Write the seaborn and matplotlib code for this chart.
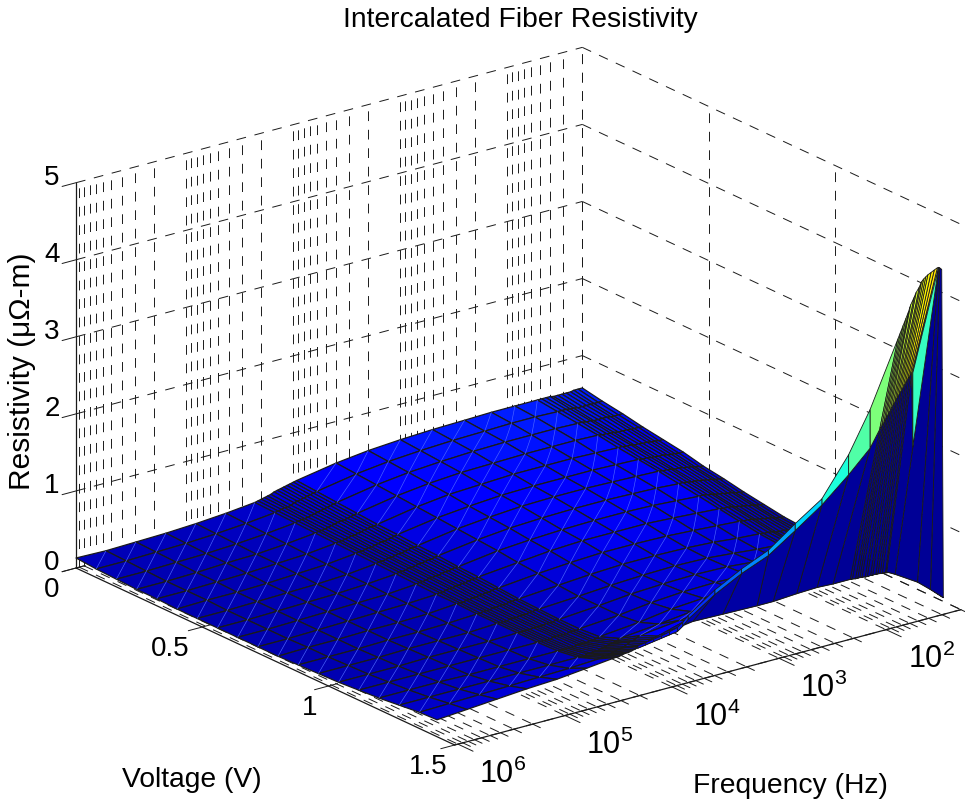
import numpy as np
import matplotlib
matplotlib.use("Agg")
import matplotlib.pyplot as plt
import seaborn as sns
from mpl_toolkits.mplot3d import proj3d, art3d

sns.set_theme(style="white", rc={"mathtext.default": "regular", "text.color": "black"})
plt.rcParams["font.family"] = ["Liberation Sans", "DejaVu Sans"]

# Frequency columns (log10 Hz), voltage rows
log_freq = [6.03, 5.75, 5.47, 5.19, 4.91, 4.63,
            4.36, 4.33, 4.30, 4.27, 4.24, 4.21, 4.18, 4.15, 4.12, 4.09, 4.06, 4.03, 4.00, 3.97,
            3.6, 3.3, 3.0, 2.7, 2.4, 2.15, 1.93,
            1.72, 1.68, 1.64, 1.60, 1.57, 1.53, 1.49, 1.45, 1.41, 1.38, 1.34, 1.30]
voltage = [0, .08, .16, .24, .32, .40, .48, .56, .64, .72, .80, .88, .96, 1.04, 1.12, 1.20, 1.28, 1.36]

# Resistivity, one row per voltage
resistivity = [
    [.13,.12,.13,.14,.16,.19,.23,.24,.25,.26,.27,.28,.30,.31,.32,.33,.34,.35,.36,.37,.46,.51,.54,.56,.57,.58,.58,.58,.58,.58,.58,.57,.57,.57,.57,.57,.58,.58,.58],
    [.11,.11,.12,.13,.15,.18,.22,.23,.24,.25,.25,.26,.28,.29,.30,.31,.32,.33,.34,.35,.44,.49,.52,.54,.55,.56,.56,.55,.55,.55,.54,.54,.53,.53,.53,.53,.53,.53,.53],
    [.10,.10,.11,.12,.14,.17,.21,.22,.23,.23,.24,.25,.26,.27,.28,.29,.30,.31,.32,.33,.42,.47,.50,.52,.53,.53,.53,.52,.52,.51,.51,.50,.50,.50,.50,.49,.49,.49,.49],
    [.09,.09,.10,.12,.13,.16,.20,.21,.21,.22,.23,.24,.25,.26,.27,.27,.28,.29,.30,.31,.40,.45,.48,.49,.50,.50,.50,.49,.48,.48,.47,.47,.46,.46,.46,.45,.45,.45,.44],
    [.09,.09,.10,.11,.13,.15,.19,.20,.20,.21,.22,.23,.23,.24,.25,.26,.27,.28,.28,.29,.38,.43,.45,.47,.47,.47,.46,.45,.45,.44,.44,.43,.43,.42,.42,.41,.41,.40,.40],
    [.08,.09,.09,.10,.12,.14,.18,.19,.19,.20,.21,.21,.22,.23,.24,.24,.25,.26,.27,.28,.36,.40,.43,.44,.44,.44,.43,.42,.41,.41,.40,.40,.39,.39,.38,.37,.37,.36,.36],
    [.08,.08,.09,.10,.11,.13,.17,.18,.18,.19,.20,.20,.21,.22,.22,.23,.24,.25,.25,.26,.34,.38,.41,.42,.42,.41,.40,.39,.38,.38,.37,.36,.36,.35,.34,.33,.32,.31,.30],
    [.08,.08,.09,.10,.11,.13,.16,.17,.17,.18,.19,.19,.20,.21,.21,.22,.23,.23,.24,.25,.32,.36,.38,.39,.39,.38,.37,.35,.35,.34,.33,.33,.32,.31,.30,.29,.28,.27,.26],
    [.08,.08,.09,.10,.11,.12,.15,.16,.16,.17,.18,.18,.19,.19,.20,.21,.21,.22,.23,.23,.30,.33,.35,.36,.36,.35,.33,.31,.31,.30,.29,.28,.27,.26,.25,.24,.23,.22,.21],
    [.08,.08,.09,.10,.11,.12,.14,.15,.15,.16,.17,.17,.18,.18,.19,.19,.20,.21,.21,.22,.27,.31,.33,.33,.33,.31,.29,.27,.26,.26,.25,.24,.23,.22,.21,.20,.19,.18,.17],
    [.08,.09,.09,.10,.10,.11,.14,.14,.14,.15,.15,.16,.16,.17,.17,.18,.18,.19,.20,.20,.25,.28,.30,.30,.29,.27,.25,.23,.22,.22,.21,.20,.19,.18,.17,.16,.15,.14,.13],
    [.09,.09,.09,.10,.10,.11,.13,.13,.14,.14,.14,.15,.15,.16,.16,.16,.17,.17,.18,.18,.22,.25,.27,.27,.26,.24,.21,.19,.18,.18,.17,.16,.15,.15,.14,.13,.13,.12,.11],
    [.10,.10,.10,.11,.11,.11,.13,.13,.13,.13,.14,.14,.14,.15,.15,.15,.16,.16,.17,.17,.20,.23,.25,.26,.25,.22,.19,.17,.16,.16,.15,.14,.14,.13,.13,.12,.12,.11,.10],
    [.11,.11,.11,.12,.12,.12,.13,.13,.13,.13,.13,.14,.14,.14,.14,.15,.15,.15,.16,.16,.20,.24,.26,.27,.26,.23,.20,.18,.17,.16,.15,.15,.14,.13,.13,.12,.12,.11,.10],
    [.13,.13,.13,.13,.13,.13,.13,.13,.13,.13,.13,.14,.14,.14,.14,.14,.15,.15,.15,.16,.20,.25,.28,.29,.28,.25,.22,.20,.19,.18,.17,.16,.15,.14,.14,.13,.12,.11,.10],
    [.15,.15,.15,.14,.14,.14,.14,.14,.14,.14,.14,.14,.15,.15,.15,.15,.16,.16,.17,.18,.23,.29,.32,.33,.32,.30,.27,.25,.24,.23,.22,.20,.19,.18,.16,.15,.13,.12,.10],
    [.18,.18,.18,.18,.18,.18,.18,.18,.18,.19,.19,.20,.20,.21,.22,.23,.24,.25,.26,.28,.33,.38,.40,.40,.39,.37,.34,.32,.31,.30,.28,.27,.25,.23,.21,.19,.17,.14,.11],
    [.21,.22,.23,.24,.25,.26,.28,.29,.30,.30,.31,.32,.33,.34,.35,.37,.39,.40,.42,.44,.50,.53,.54,.54,.54,.53,.50,.48,.47,.46,.44,.42,.40,.37,.34,.30,.25,.19,.10],
]

# Front edge of the sweep
edge_volt = [1.43] * 39
edge_logf = log_freq[:20] + [3.64, 3.36, 3.04, 2.89, 2.67, 2.48, 2.33,
                             2.17, 2.12, 2.08, 2.03, 1.98, 1.93, 1.88, 1.83, 1.75, 1.54, 1.42, 1.30]
edge_res = [.22,.25,.28,.31,.33,.37,.41,.41,.42,.43,.43,.44,.45,.47,.48,.49,.50,.52,.53,.54,
            .61,.60,.59,.59,.61,.62,.61,.61,.60,.60,.59,.59,.59,.58,.58,.52,.34,.20,.05]

# Upturn at low frequency: front edge, rise and top of the spike
fan_edge_volt = [1.43] * 35
fan_edge_logf = [4.2, 4.15, 4.1, 4.05, 4.0, 3.95, 3.9, 3.85, 3.64, 3.36, 3.04, 2.89, 2.67, 2.48, 2.33,
                 2.17, 2.15, 2.12, 2.10, 2.08, 2.06, 2.03, 2.01, 1.98, 1.96, 1.93, 1.91, 1.89, 1.87, 1.84, 1.83,
                 1.75, 1.54, 1.42, 1.30]
fan_edge_res = [.45,.47,.49,.51,.53,.55,.57,.59,.61,.60,.59,.59,.61,.62,.61,
                .61,.61,.60,.60,.60,.60,.59,.59,.59,.59,.59,.59,.58,.58,.58,.58,
                .52,.34,.20,.05]
fan_edge_colour = [.45,.47,.42,.36,.30,.26,.22,.20,.16,.15,.14,.13,.12,.12,.11,
                   .10,.10,.10,.10,.10,.10,.10,.10,.10,.10,.10,.10,.10,.10,.10,.10,
                   .10,.10,.10,.08]

rise_volt = [1.45, 1.46, 1.47, 1.48, 1.49] + [1.5] * 30
rise_logf = [4.2, 4.15, 4.1, 4.05, 4.0, 3.95, 3.9, 3.85, 3.6, 3.35, 3.1, 2.85, 2.6, 2.35, 2.15,
             2.06, 2.04, 2.02, 2.00, 1.98, 1.96, 1.94, 1.92, 1.90, 1.88, 1.86, 1.84, 1.82, 1.80, 1.78, 1.76,
             1.75, 1.51, 1.50, 1.48]
rise_res = [.50,.54,.58,.62,.66,.70,.75,.82,1.05,1.23,1.37,1.60,1.84,2.14,2.41,
            2.62,2.66,2.70,2.75,2.79,2.83,2.88,2.92,2.97,3.01,3.05,3.09,3.13,3.17,3.21,3.25,
            2.28,4.52,4.51,4.48]
rise_colour = rise_res[:31] + [2.0] + rise_res[32:]

top_logf = [4.2, 4.15, 4.1, 4.05, 4.0, 3.95, 3.9, 3.85, 3.6, 3.35, 3.1, 2.85, 2.6, 2.35, 2.15,
            1.89, 1.865, 1.84, 1.815, 1.79, 1.77, 1.74, 1.72, 1.69, 1.67, 1.65, 1.63, 1.61, 1.58, 1.55, 1.52,
            1.75, 1.51, 1.50, 1.48]
top_res = [.53,.57,.61,.65,.70,.75,.80,.87,1.11,1.29,1.44,1.69,1.92,2.40,2.91,
           3.73,3.81,3.89,3.97,4.05,4.13,4.21,4.27,4.33,4.39,4.42,4.44,4.46,4.48,4.50,4.52,
           3.24,4.52,4.51,4.48]

z_ticks = [0, 1, 2, 3, 4, 5]
v_ticks = [0, 0.5, 1, 1.5]
v_labels = ["0", "0.5", "1", "1.5"]
v_label_dx = [-24, -32, -19, -27]
f_decades = [6, 5, 4, 3, 2]
f_minor = [2, 3, 4, 5, 6, 7, 8, 9]

V_MAX, F_HI, F_LO, Z_MAX = 1.5, 6.03, 1.3, 5
W, H = 965, 808
CMAX = 4.4
CMAX_FAN = 4.8

# Build the meshes
n_col = len(log_freq)
X = np.array([[v] * n_col for v in voltage] + [edge_volt], dtype=float)
Y = np.array([log_freq] * len(voltage) + [edge_logf], dtype=float)
Z = np.array(resistivity + [edge_res], dtype=float)

X2 = np.array([fan_edge_volt, rise_volt, rise_volt], dtype=float)
Y2 = np.array([fan_edge_logf, rise_logf, top_logf], dtype=float)
Z2 = np.array([fan_edge_res, rise_res, top_res], dtype=float)
C2 = np.array([fan_edge_colour, rise_colour, top_res], dtype=float)

jet = matplotlib.colormaps["jet"]

fig = plt.figure(figsize=(9.65, 8.08), dpi=100)
ax = fig.add_subplot(projection="3d", proj_type="ortho", computed_zorder=False)
ax.set_axis_off()
ax.view_init(elev=20.7, azim=-37.1)
ax.set_box_aspect((628, 635, 412))
ax.set_xlim(0, V_MAX)
ax.set_ylim(F_HI, F_LO)
ax.set_zlim(0, Z_MAX)

DASH = (0, (10, 9))


def seg(a, b, **kw):
    kw.setdefault("color", "k")
    kw.setdefault("lw", 0.7)
    kw.setdefault("zorder", 1)
    ax.plot([a[0], b[0]], [a[1], b[1]], [a[2], b[2]], **kw)


# Grid on floor and the two back walls
f_lines = []
for d in f_decades:
    f_lines.append((d, True))
    for m in f_minor:
        lf = d - 1 + np.log10(m)
        if F_LO <= lf <= F_HI:
            f_lines.append((lf, False))
for lf, major in f_lines:
    seg((0, lf, 0), (0, lf, Z_MAX), ls=DASH)
    seg((0, lf, 0), (V_MAX, lf, 0), ls=DASH)
    seg((V_MAX, lf, 0), (V_MAX + (0.06 if major else 0.03), lf, 0))
for z in z_ticks:
    seg((0, F_HI, z), (0, F_LO, z), ls=DASH)
    seg((0, F_LO, z), (V_MAX, F_LO, z), ls=DASH)
    seg((0, F_HI, z), (0, F_HI + 0.13, z))
for v in v_ticks:
    if v < V_MAX:
        seg((v, F_LO, 0), (v, F_LO, Z_MAX), ls=DASH)
    seg((v, F_HI, 0), (v, F_LO, 0), ls=DASH)
    seg((v, F_HI, 0), (v, F_HI + 0.13, 0))

# Solid axis lines
seg((0, F_HI, 0), (0, F_HI, Z_MAX), lw=0.9)
seg((0, F_HI, 0), (V_MAX, F_HI, 0), lw=0.9)
seg((V_MAX, F_HI, 0), (V_MAX, F_LO, 0), lw=0.9)

surf = ax.plot_surface(X, Y, Z, rstride=1, cstride=1, facecolors=jet(np.clip((Z + 0.1) / CMAX, 0, 1)),
                       shade=False, linewidth=0.9, zorder=2)
surf.set_edgecolor("k")

# Thin light diagonals across the wider cells
diagonals = []
for i in range(len(voltage) - 1):
    for j in range(n_col - 1):
        if log_freq[j] - log_freq[j + 1] > 0.1:
            diagonals.append([(X[i + 1, j], Y[i + 1, j], Z[i + 1, j]),
                              (X[i, j + 1], Y[i, j + 1], Z[i, j + 1])])
ax.add_collection3d(art3d.Line3DCollection(diagonals, colors=[(0.3, 0.4, 1.0)], linewidths=0.45, zorder=2.5))

fan = ax.plot_surface(X2, Y2, Z2, rstride=1, cstride=1, facecolors=jet(np.clip(C2 / CMAX_FAN, 0, 1)),
                      shade=False, linewidth=0.6, zorder=3)
fan.set_edgecolor("k")

ax.set_xlim(0, V_MAX)
ax.set_ylim(F_HI, F_LO)
ax.set_zlim(0, Z_MAX)


def to_px(v, lf, z):
    x, y, _ = proj3d.proj_transform(v, lf, z, ax.get_proj())
    return ax.transData.transform((x, y))


# Fit the box to the figure: left corner at (76, 568), right corner at (961, 610)
side = 800.0
ax.set_position([0, 0, side / W, side / H])
ax.apply_aspect()
span = to_px(V_MAX, F_LO, 0)[0] - to_px(0, F_HI, 0)[0]
side *= 885 / span
ax.set_position([0, 0, side / W, side / H])
ax.apply_aspect()
o = to_px(0, F_HI, 0)
ax.set_position([(76 - o[0]) / W, ((H - 568) - o[1]) / H, side / W, side / H])
ax.apply_aspect()


def label_at(point, dx, dy, text, size):
    px = to_px(*point)
    fig.text((px[0] + dx) / W, (px[1] - dy) / H, text, fontsize=size, ha="center", va="center")


for z in z_ticks:
    label_at((0, F_HI, z), -24, -5, str(z), 20)
for v, lab, dx in zip(v_ticks, v_labels, v_label_dx):
    label_at((v, F_HI, 0), dx, 22, lab, 20)
for d in f_decades:
    label_at((V_MAX, d, 0), 45, 30, f"$10^{{{d}}}$", 22)

fig.text(520 / W, 1 - 20 / H, "Intercalated Fiber Resistivity", fontsize=20.3, ha="center", va="center")
fig.text(192 / W, 1 - 780 / H, "Voltage (V)", fontsize=20.3, ha="center", va="center")
fig.text(790 / W, 1 - 786 / H, "Frequency (Hz)", fontsize=20.3, ha="center", va="center")
fig.text(22 / W, 1 - 371 / H, "Resistivity (μΩ-m)", fontsize=21.5, rotation=90, ha="center", va="center")

fig.savefig("out.png", dpi=100)
